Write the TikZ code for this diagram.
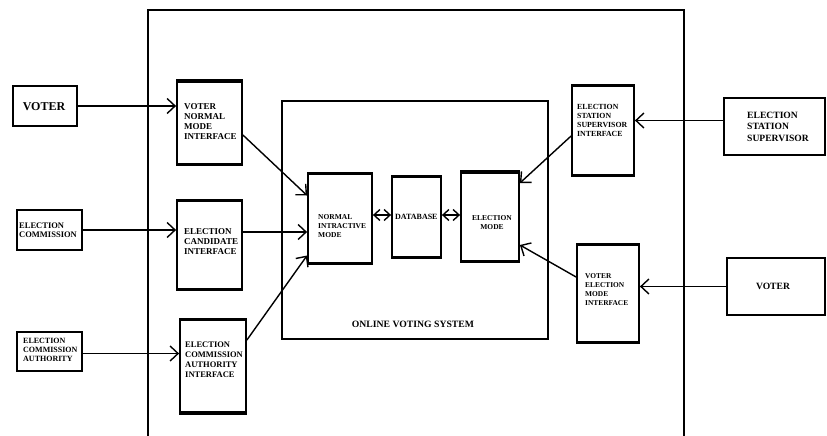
\documentclass[tikz,border=0pt]{standalone}
\usepackage{fontspec}
\setmainfont{Liberation Serif}
\usetikzlibrary{arrows.meta}
\newcommand{\mkbox}[5]{%
  \pgfmathsetmacro\mybw{#4-#2}%
  \pgfmathsetmacro\mybh{#5-#3}%
  \node[boxsty,minimum width=\mybw pt,minimum height=\mybh pt] (#1) at ({(#2+#4)/2},{(#3+#5)/2}) {};}
\newcommand{\topbot}[3]{%
  \draw[line width=#2pt] (#1.north west) -- (#1.north east);
  \draw[line width=#3pt] (#1.south west) -- (#1.south east);}
\begin{document}
\begin{tikzpicture}[x=1pt,y=-1pt,
  boxsty/.style={draw, line width=1.8pt, inner sep=0pt, fill=white},
  txt/.style={inner sep=0pt, align=left},
  arr/.style={line width=1.4pt, -{Straight Barb[length=8pt,width=15pt,line width=1.4pt]}},
  darr/.style={line width=1.4pt, {Straight Barb[length=6pt,width=11pt,line width=1.4pt]}-{Straight Barb[length=6pt,width=11pt,line width=1.4pt]}},
  frame/.style={line width=1.6pt}]
\useasboundingbox (0,0) rectangle (827,436);
% outer system frame
\coordinate (fa) at (148,436);
\coordinate (fb) at (148,10);
\coordinate (fc) at (684,10);
\coordinate (fd) at (684,436);
\draw[frame] (fa) -- (fb) -- (fc) -- (fd);
% boxes
\mkbox{ovs}{282}{101}{548}{339}
\mkbox{voterL}{13}{86}{77}{126}
\mkbox{vnmi}{177}{82}{242}{164}
\mkbox{ec}{17}{210}{82}{250}
\mkbox{eci}{177}{201}{242}{289}
\mkbox{eca}{17}{332}{82}{371}
\mkbox{ecai}{180}{320}{246}{412}
\mkbox{nim}{308}{174}{372}{263}
\mkbox{db}{392}{177}{441}{257}
\mkbox{em}{461}{173}{519}{261}
\mkbox{essi}{572}{86}{634}{175}
\mkbox{ess}{724}{98}{825}{155}
\mkbox{vemi}{577}{245}{639}{342}
\mkbox{voterR}{727}{258}{825}{315}
\topbot{vnmi}{3.5}{3}
\topbot{eci}{3}{2.6}
\topbot{ecai}{3}{3.8}
\topbot{nim}{2.6}{3}
\topbot{db}{2.6}{3}
\topbot{em}{3.5}{3}
\topbot{essi}{3}{1.8}
\topbot{vemi}{3}{3}
% texts
\node[txt, font=\bfseries\fontsize{12}{13}\selectfont] (voterLt) at (44,107) {VOTER};
\node[txt, anchor=west, font=\bfseries\fontsize{9}{10}\selectfont] (vnmit) at (184,122) {VOTER\\NORMAL\\MODE\\INTERFACE};
\node[txt, anchor=west, font=\bfseries\fontsize{8.5}{9.5}\selectfont] (ect) at (19,230) {ELECTION\\COMMISSION};
\node[txt, anchor=west, font=\bfseries\fontsize{9}{10}\selectfont] (ecit) at (184,242) {ELECTION\\CANDIDATE\\INTERFACE};
\node[txt, anchor=west, font=\bfseries\fontsize{8}{9}\selectfont] (ecat) at (23,350) {ELECTION\\COMMISSION\\AUTHORITY};
\node[txt, anchor=west, font=\bfseries\fontsize{8.5}{10}\selectfont] (ecait) at (185,359.5) {ELECTION\\COMMISSION\\AUTHORITY\\INTERFACE};
\node[txt, anchor=west, font=\bfseries\fontsize{7.5}{9}\selectfont] (nimt) at (318,226) {NORMAL\\INTRACTIVE\\MODE};
\node[txt, anchor=west, font=\bfseries\fontsize{8}{9}\selectfont] (dbt) at (395,217) {DATABASE};
\node[txt, align=center, font=\bfseries\fontsize{7.5}{9}\selectfont] (emt) at (492,222.5) {ELECTION\\MODE};
\node[txt, font=\bfseries\fontsize{9.7}{11}\selectfont] (ovst) at (413,324) {ONLINE VOTING SYSTEM};
\node[txt, anchor=west, font=\bfseries\fontsize{7.8}{9}\selectfont] (essit) at (577,120.5) {ELECTION\\STATION\\SUPERVISOR\\INTERFACE};
\node[txt, anchor=west, font=\bfseries\fontsize{9.6}{11.5}\selectfont] (esst) at (747,126.5) {ELECTION\\STATION\\SUPERVISOR};
\node[txt, anchor=west, font=\bfseries\fontsize{7.4}{9}\selectfont] (vemit) at (585,289.5) {VOTER\\ELECTION\\MODE\\INTERFACE};
\node[txt, font=\bfseries\fontsize{9.6}{11}\selectfont] (voterRt) at (773,286) {VOTER};
% connector anchor points
\coordinate (ecaOut) at ([yshift=-2pt]eca.east);
\coordinate (eciOut) at ([yshift=13pt]eci.east);
\coordinate (dbIn) at ([yshift=2pt]db.west);
\coordinate (dbOut) at ([yshift=2pt]db.east);
\coordinate (essOut) at ([yshift=6pt]ess.west);
% connectors
\draw[arr] (voterL.east) -- (vnmi.west |- voterL.east);
\draw[arr] (ec.east) -- (eci.west |- ec.east);
\draw[arr] (ecaOut) -- (ecai.west |- ecaOut);
\draw[arr] ([yshift=-12pt]vnmi.east) -- ([yshift=23pt]nim.west);
\draw[arr] (eciOut) -- (nim.west |- eciOut);
\draw[arr] ([yshift=26pt]ecai.east) -- ([yshift=-37pt]nim.west);
\draw[darr] (nim.east |- dbIn) -- (dbIn);
\draw[darr] (dbOut) -- (em.west |- dbOut);
\draw[arr] (essOut) -- (essi.east |- essOut);
\draw[arr] ([yshift=-5.5pt]essi.west) -- ([yshift=34pt]em.east);
\draw[arr] (voterR.west) -- (vemi.east |- voterR.west);
\draw[arr] ([yshift=16.5pt]vemi.west) -- ([yshift=-28pt]em.east);
\end{tikzpicture}
\end{document}
